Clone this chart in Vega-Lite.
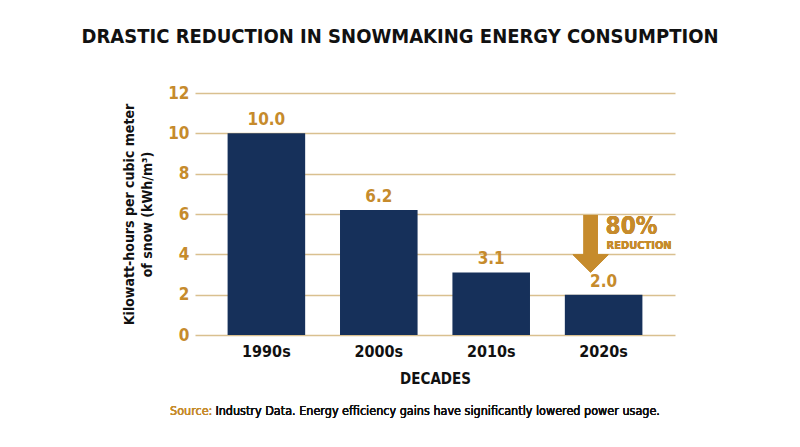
{
  "$schema": "https://vega.github.io/schema/vega-lite/v6.json",
  "width": 480,
  "height": 242,
  "autosize": {"type": "none"},
  "padding": {"left": 195, "top": 93, "right": 125, "bottom": 112},
  "background": "white",
  "config": {
    "view": {"stroke": null},
    "font": "Liberation Sans Narrow, DejaVu Sans Condensed, Roboto"
  },
  "title": {
    "text": "DRASTIC REDUCTION IN SNOWMAKING ENERGY CONSUMPTION",
    "fontSize": 20,
    "fontWeight": "bold",
    "color": "#111111",
    "anchor": "middle",
    "dx": -35,
    "offset": 37,
    "font": "Liberation Sans Narrow, DejaVu Sans Condensed, Roboto"
  },
  "data": {
    "values": [
      {"decade": "1990s", "kwh": 10.0},
      {"decade": "2000s", "kwh": 6.2},
      {"decade": "2010s", "kwh": 3.1},
      {"decade": "2020s", "kwh": 2.0}
    ]
  },
  "encoding": {
    "x": {
      "field": "decade",
      "type": "nominal",
      "sort": null,
      "scale": {"paddingInner": 0.31, "paddingOuter": 0.29},
      "axis": {
        "title": "DECADES",
        "titleFontSize": 15,
        "titleFontWeight": "bold",
        "titleColor": "#111111",
        "titlePadding": 12,
        "labelAngle": 0,
        "labelFontSize": 16,
        "labelFontWeight": "bold",
        "labelColor": "#111111",
        "labelPadding": 8,
        "domain": false,
        "ticks": false
      }
    }
  },
  "layer": [
    {
      "mark": {"type": "bar", "color": "#16305A"},
      "encoding": {
        "y": {
          "field": "kwh",
          "type": "quantitative",
          "scale": {"domain": [0, 12]},
          "axis": {
            "title": ["Kilowatt-hours per cubic meter", "of snow (kWh/m³)"],
            "titleFontSize": 14,
            "titleFontWeight": "bold",
            "titleColor": "#111111",
            "titleLineHeight": 18,
            "titlePadding": 13,
            "values": [0, 2, 4, 6, 8, 10, 12],
            "labelFontSize": 17,
            "labelFontWeight": "bold",
            "labelColor": "#C68B2C",
            "labelPadding": 6,
            "domain": false,
            "ticks": false,
            "gridColor": "#D9C08F",
            "gridWidth": 1.5
          }
        }
      }
    },
    {
      "mark": {"type": "text", "baseline": "bottom", "dy": -4, "fontSize": 17, "fontWeight": "bold", "color": "#C68B2C"},
      "encoding": {
        "y": {"field": "kwh", "type": "quantitative"},
        "text": {"field": "kwh", "type": "quantitative", "format": ".1f"}
      }
    },
    {
      "mark": {"type": "rule", "color": "#C68B2C", "strokeWidth": 14, "xOffset": -13},
      "encoding": {
        "x": {"datum": "2020s"},
        "y": {"datum": 5.95},
        "y2": {"datum": 3.85}
      }
    },
    {
      "mark": {"type": "point", "shape": "M-1,-0.5L1,-0.5L0,0.5Z", "size": 1296, "filled": true, "opacity": 1, "color": "#C68B2C", "xOffset": -13},
      "encoding": {
        "x": {"datum": "2020s"},
        "y": {"datum": 3.55}
      }
    },
    {
      "mark": {"type": "text", "align": "left", "baseline": "alphabetic", "fontSize": 24, "fontWeight": "bold", "color": "#C68B2C", "xOffset": 2},
      "encoding": {
        "x": {"datum": "2020s"},
        "y": {"datum": 5.0},
        "text": {"value": "80%"}
      }
    },
    {
      "mark": {"type": "text", "align": "left", "baseline": "alphabetic", "fontSize": 11, "fontWeight": "bold", "color": "#C68B2C", "xOffset": 3},
      "encoding": {
        "x": {"datum": "2020s"},
        "y": {"datum": 4.25},
        "text": {"value": "REDUCTION"}
      }
    },
    {
      "mark": {"type": "text", "align": "right", "baseline": "alphabetic", "fontSize": 12.5, "color": "#C68B2C", "xOffset": -54, "clip": false},
      "encoding": {
        "x": {"datum": "1990s"},
        "y": {"datum": -3.95},
        "text": {"value": "Source:"}
      }
    },
    {
      "mark": {"type": "text", "align": "left", "baseline": "alphabetic", "fontSize": 12.5, "color": "#111111", "xOffset": -51, "clip": false},
      "encoding": {
        "x": {"datum": "1990s"},
        "y": {"datum": -3.95},
        "text": {"value": "Industry Data. Energy efficiency gains have significantly lowered power usage."}
      }
    }
  ]
}
